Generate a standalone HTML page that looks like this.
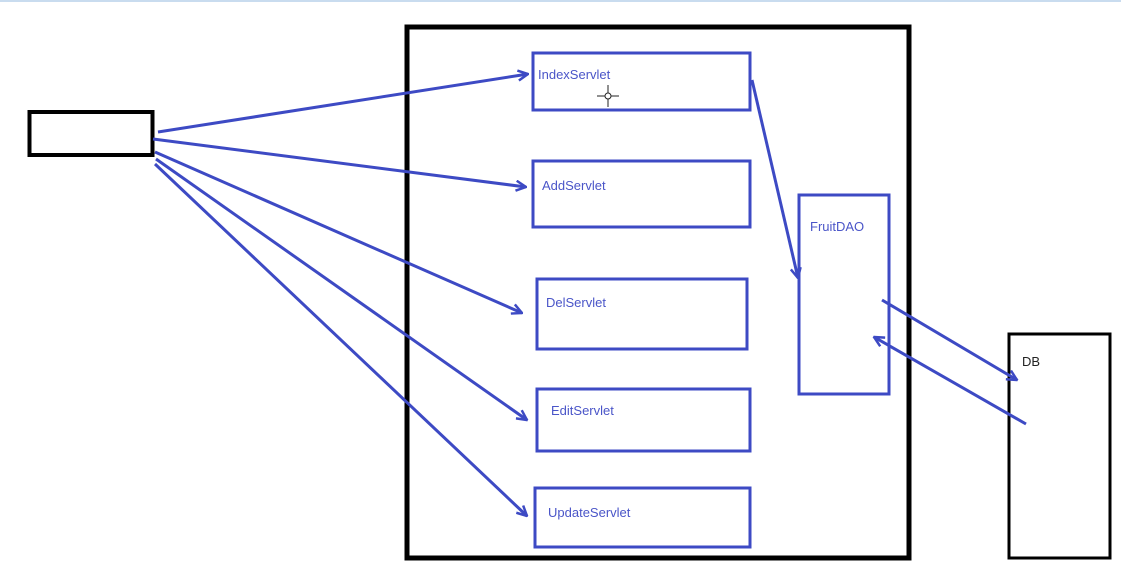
<!DOCTYPE html>
<html><head><meta charset="utf-8"><style>
html,body{margin:0;padding:0;background:#fff;}
svg{display:block}
text{font-family:"Liberation Sans",sans-serif;font-size:13px;fill:#4a55c8}
</style></head><body>
<svg width="1121" height="582" viewBox="0 0 1121 582" xmlns="http://www.w3.org/2000/svg">
<defs>
<marker id="a" viewBox="0 0 12 12" refX="11" refY="6" markerWidth="12" markerHeight="12" markerUnits="userSpaceOnUse" orient="auto">
<path d="M1,1 L11,6 L1,11" fill="none" stroke="#3d4ac4" stroke-width="2.5"/>
</marker>
</defs>
<rect x="0" y="0" width="1121" height="2" fill="#c9dcef"/>
<!-- black boxes -->
<rect x="29.5" y="112" width="123" height="43" fill="none" stroke="#000" stroke-width="4"/>
<rect x="407" y="27" width="502" height="531" fill="none" stroke="#000" stroke-width="5"/>
<rect x="1009" y="334" width="101" height="224" fill="none" stroke="#000" stroke-width="3"/>
<!-- blue boxes -->
<g fill="none" stroke="#3d4ac4" stroke-width="3">
<rect x="533" y="53" width="217" height="57"/>
<rect x="533" y="161" width="217" height="66"/>
<rect x="537" y="279" width="210" height="70"/>
<rect x="537" y="389" width="213" height="62"/>
<rect x="535" y="488" width="215" height="59"/>
<rect x="799" y="195" width="90" height="199"/>
</g>
<text x="538" y="79">IndexServlet</text>
<text x="542" y="190">AddServlet</text>
<text x="546" y="307">DelServlet</text>
<text x="551" y="415">EditServlet</text>
<text x="548" y="517">UpdateServlet</text>
<text x="810" y="231">FruitDAO</text>
<text x="1022" y="366" style="fill:#222">DB</text>
<!-- connectors -->
<g fill="none" stroke="#3d4ac4" stroke-width="3" marker-end="url(#a)">
<line x1="158" y1="132" x2="528" y2="74"/>
<line x1="153" y1="139" x2="526" y2="187"/>
<line x1="155" y1="152" x2="522" y2="313"/>
<line x1="156" y1="159" x2="527" y2="420"/>
<line x1="155" y1="164" x2="527" y2="516"/>
<line x1="752" y1="80" x2="798" y2="278"/>
<line x1="882" y1="300" x2="1017" y2="380"/>
<line x1="1026" y1="424" x2="874" y2="337"/>
</g>
<!-- cursor crosshair -->
<g stroke="#222" stroke-width="1" fill="none">
<line x1="597" y1="96" x2="619" y2="96"/><line x1="608" y1="85" x2="608" y2="107"/>
<circle cx="608" cy="96" r="3" fill="#fff"/>
</g>
</svg>
</body></html>
